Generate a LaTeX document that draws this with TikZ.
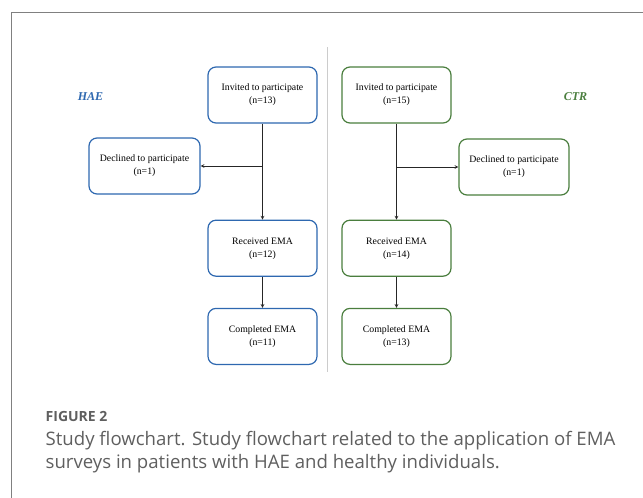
\documentclass[tikz,border=0pt]{standalone}
\usepackage{fontspec}
\setmainfont{Liberation Serif}
\newfontfamily\capfont{Open Sans}
\usepackage{tikz}
\usetikzlibrary{arrows,positioning,calc}
\definecolor{haeblue}{RGB}{46,104,176}
\definecolor{ctrgreen}{RGB}{74,126,62}
\definecolor{framegray}{RGB}{128,128,128}
\definecolor{capgray}{RGB}{95,95,95}

\begin{document}
\begin{tikzpicture}[x=1pt, y=-1pt,
    haebox/.style={rectangle, draw=haeblue, fill=white, minimum width=109pt,
        minimum height=56pt, align=center, rounded corners=8pt, line width=1.2pt,
        font=\fontsize{9.8}{13}\selectfont},
    ctrbox/.style={haebox, draw=ctrgreen},
    arrow/.style={->, >=stealth, line width=0.7pt, color=black!85},
    group/.style={font=\fontsize{12}{14}\selectfont\bfseries\itshape}
]
    \useasboundingbox (0,0) rectangle (643,498);
    % frame and divider
    \draw[framegray, line width=1.3pt] (11.5,498) -- (11.5,12.5) -- (643,12.5);
    \draw[black!20, line width=0.8pt] (327,47) -- (327,372);

    % HAE arm
    \node[group, text=haeblue] (haelabel) at (90.5,97) {HAE};
    \node[haebox] (invhae) at (262.5,95) {Invited to participate\\(n=13)};
    \node[haebox, below=96pt of invhae] (rechae) {Received EMA\\(n=12)};
    \node[haebox, below=31pt of rechae] (comhae) {Completed EMA\\(n=11)};
    \node[haebox, minimum width=111pt] (dechae) at (144.5,166) {Declined to participate\\(n=1)};
    \coordinate (brhae) at (invhae.south |- dechae.east);
    \draw[arrow] (invhae) -- (rechae);
    \draw[arrow] (brhae) -- (dechae);
    \draw[arrow] (rechae) -- (comhae);

    % CTR arm
    \node[group, text=ctrgreen] (ctrlabel) at (575.5,97) {CTR};
    \node[ctrbox] (invctr) at (396.5,95) {Invited to participate\\(n=15)};
    \node[ctrbox, below=96pt of invctr] (recctr) {Received EMA\\(n=14)};
    \node[ctrbox, below=31pt of recctr] (comctr) {Completed EMA\\(n=13)};
    \node[ctrbox, minimum width=110pt] (decctr) at (514,167) {Declined to participate\\(n=1)};
    \coordinate (brctr) at (invctr.south |- decctr.west);
    \draw[arrow] (invctr) -- (recctr);
    \draw[arrow] (brctr) -- (decctr);
    \draw[arrow] (recctr) -- (comctr);

    % caption
    \node[anchor=base west, inner sep=0pt, text=capgray,
        font=\capfont\bfseries\fontsize{14}{17}\selectfont] (figno) at (45.5,421) {FIGURE 2};
    \node[anchor=base west, inner sep=0pt, text=capgray, align=left,
        font=\capfont\fontsize{18.6}{23}\selectfont] (caption) at (45.5,468)
        {Study flowchart. Study flowchart related to the application of EMA\\
         surveys in patients with HAE and healthy individuals.};
\end{tikzpicture}
\end{document}
